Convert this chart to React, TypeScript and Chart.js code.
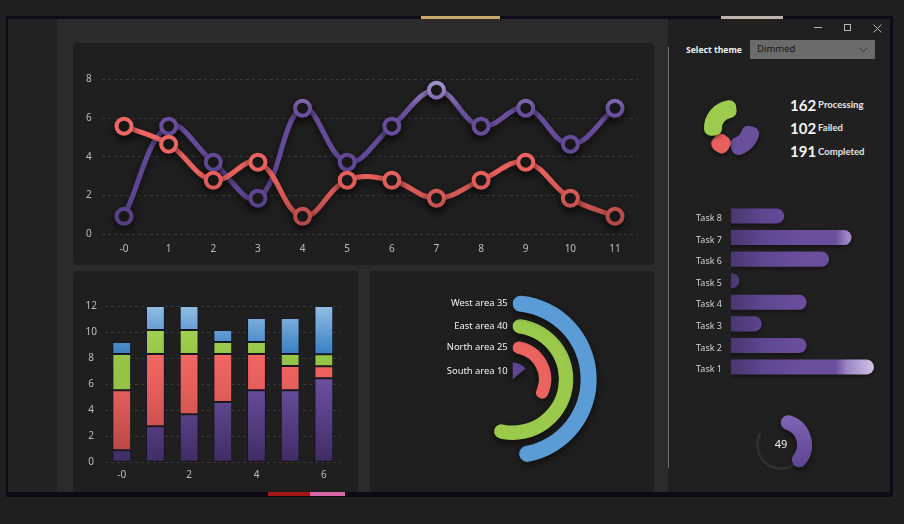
import React, { useEffect, useRef } from 'react';
import { Chart, registerables } from 'chart.js';

Chart.register(...registerables);
Chart.defaults.font.family = '"Noto Sans", "Open Sans", sans-serif';

// ---------------- data ----------------
const lineLabels = ['-0', '1', '2', '3', '4', '5', '6', '7', '8', '9', '10', '11'];
const lineSeriesPurple = [0.93, 5.58, 3.72, 1.86, 6.51, 3.72, 5.58, 7.44, 5.58, 6.51, 4.65, 6.51];
const lineSeriesRed = [5.58, 4.65, 2.79, 3.72, 0.93, 2.79, 2.79, 1.86, 2.79, 3.72, 1.86, 0.93];
const lineYMax = 8;
const lineYStep = 2;

const barLabels = ['-0', '1', '2', '3', '4', '5', '6'];
const barPurple = [0.92, 2.77, 3.69, 4.62, 5.54, 5.54, 6.46];
const barRed = [4.62, 5.54, 4.62, 3.69, 2.77, 1.85, 0.92];
const barGreen = [2.77, 1.85, 1.85, 0.92, 0.92, 0.92, 0.92];
const barBlue = [0.92, 1.84, 1.84, 0.92, 1.85, 2.77, 3.7];
const barYMax = 12;
const barYStep = 2;

const areaLabels = ['West area', 'East area', 'North area', 'South area'];
const areaValues = [35, 40, 25, 10];
const areaMax = 72;

const statusCounts = [162, 102, 191];
const statusNames = ['Processing', 'Failed', 'Completed'];
// icon arcs in degrees: purple, gap, red, gap, green, gap
const statusArcDegrees = [56, 47, 12, 47, 84, 114];

const taskLabels = ['Task 1', 'Task 2', 'Task 3', 'Task 4', 'Task 5', 'Task 6', 'Task 7', 'Task 8'];
const taskValues = [7, 4, 2, 4, 1, 5, 6, 3];
const taskAxisMin = 0.63;
const taskAxisMax = 7.27;

const gaugeValue = 49;
const gaugeMax = 100;

// ---------------- helpers ----------------
const TICK = '#bdbdbd';
type Stop = [number, string];

function gradY(chart: any, stops: Stop[], fallback: string) {
  const { chartArea, scales } = chart;
  if (!chartArea || !scales || !scales.y) return fallback;
  const s = scales.y;
  const p0 = s.getPixelForValue(s.min);
  const p1 = s.getPixelForValue(s.max);
  const g = chart.ctx.createLinearGradient(0, p0, 0, p1);
  for (const [v, c] of stops) {
    g.addColorStop(Math.min(1, Math.max(0, (v - s.min) / (s.max - s.min))), c);
  }
  return g;
}

function gradX(chart: any, stops: Stop[], fallback: string) {
  const { chartArea, scales } = chart;
  if (!chartArea || !scales || !scales.x) return fallback;
  const s = scales.x;
  const p0 = s.getPixelForValue(s.min);
  const p1 = s.getPixelForValue(s.max);
  const g = chart.ctx.createLinearGradient(p0, 0, p1, 0);
  for (const [v, c] of stops) {
    g.addColorStop(Math.min(1, Math.max(0, (v - s.min) / (s.max - s.min))), c);
  }
  return g;
}

const shadow = (color: string, blur: number, offY: number) => ({
  id: 'dropShadow',
  beforeDatasetDraw(chart: any) {
    const c = chart.ctx;
    c.save();
    c.shadowColor = color;
    c.shadowBlur = blur;
    c.shadowOffsetY = offY;
  },
  afterDatasetDraw(chart: any) {
    chart.ctx.restore();
  },
});

const baseOpts = {
  responsive: false,
  animation: false,
  events: [],
  plugins: { legend: { display: false }, tooltip: { enabled: false } },
};

// ---------------- chart configs ----------------
const purpleStops: Stop[] = [[0, '#523e82'], [2, '#5c4490'], [6.5, '#6a509f'], [7.5, '#9a85c4'], [8, '#a794cf']];
const redStops: Stop[] = [[0, '#a94444'], [1, '#bb4d4b'], [2, '#d45856'], [3.2, '#e9605d'], [5.6, '#f06764'], [8, '#f26a66']];

const lineConfig = () => ({
  type: 'line',
  data: {
    labels: lineLabels,
    datasets: [
      {
        data: lineSeriesRed,
        borderColor: (c: any) => gradY(c.chart, redStops, '#e8605d'),
        pointBorderColor: (c: any) => gradY(c.chart, redStops, '#e8605d'),
        pointBackgroundColor: '#1f1f1f',
        borderWidth: 5,
        pointRadius: 7.5,
        pointBorderWidth: 4,
        tension: 0.4,
        clip: false,
      },
      {
        data: lineSeriesPurple,
        borderColor: (c: any) => gradY(c.chart, purpleStops, '#6a4f9c'),
        pointBorderColor: (c: any) => gradY(c.chart, purpleStops, '#6a4f9c'),
        pointBackgroundColor: '#1f1f1f',
        borderWidth: 5,
        pointRadius: 7.5,
        pointBorderWidth: 4,
        tension: 0.4,
        clip: false,
      },
    ],
  },
  options: {
    ...baseOpts,
    layout: { autoPadding: false, padding: { top: 36.3, right: 16.7, bottom: 0, left: 0 } },
    scales: {
      x: {
        offset: true,
        grid: { display: false, drawTicks: false },
        border: { display: false },
        ticks: { color: TICK, font: { size: 10 }, padding: 8.7, maxRotation: 0, autoSkip: false },
        afterFit: (s: any) => { s.height = 30.7; },
      },
      y: {
        min: 0,
        max: lineYMax,
        ticks: { stepSize: lineYStep, color: TICK, font: { size: 10 }, padding: 10, crossAlign: 'center' },
        grid: { color: '#393939', drawTicks: false, lineWidth: 1 },
        border: { display: false, dash: [3, 3] },
        afterFit: (s: any) => { s.width = 28.7; },
      },
    },
  },
  plugins: [shadow('rgba(0,0,0,0.6)', 8, 4)],
});

const barConfig = () => {
  const mk = (data: number[], stops: Stop[], fb: string) => ({
    data,
    backgroundColor: (c: any) => gradY(c.chart, stops, fb),
    borderColor: '#1b1a2a',
    borderWidth: 1,
    borderSkipped: false,
    barPercentage: 0.56,
    categoryPercentage: 1,
  });
  return {
    type: 'bar',
    data: {
      labels: barLabels,
      datasets: [
        mk(barPurple, [[0, '#3f2d64'], [6.5, '#6c50a1'], [12, '#7a5fb0']], '#5a4288'),
        mk(barRed, [[0, '#b04444'], [1, '#bb4947'], [5.5, '#e45e5b'], [8.4, '#f26663'], [12, '#f26663']], '#e85f5c'),
        mk(barGreen, [[0, '#8fbf42'], [8, '#95c447'], [10.2, '#a3d052'], [12, '#a3d052']], '#9bc94b'),
        mk(barBlue, [[0, '#3a80c3'], [8.4, '#3a80c3'], [12, '#93bee4']], '#4a8fcf'),
      ],
    },
    options: {
      ...baseOpts,
      layout: { autoPadding: false, padding: { top: 35, right: 16.3, bottom: 0, left: 0 } },
      scales: {
        x: {
          stacked: true,
          grid: { display: false, drawTicks: false },
          border: { display: false },
          ticks: {
            color: TICK,
            font: { size: 10 },
            padding: 6.7,
            maxRotation: 0,
            autoSkip: false,
            callback: function (this: any, v: any, i: number) {
              return i % 2 === 0 ? barLabels[i] : '';
            },
          },
          afterFit: (s: any) => { s.height = 28.7; },
        },
        y: {
          stacked: true,
          min: 0,
          max: barYMax,
          ticks: { stepSize: barYStep, color: TICK, font: { size: 10 }, padding: 8, crossAlign: 'center' },
          grid: { color: '#393939', drawTicks: false },
          border: { display: false, dash: [3, 3] },
          afterFit: (s: any) => { s.width = 31.9; },
        },
      },
    },
    plugins: [shadow('rgba(0,0,0,0.35)', 4, 2)],
  };
};

const ringColors = ['#5b9bd6', '#9bc94c', '#ec6461', '#5f4892'];
const ringWeights = [16, 14.3, 12.3, 16.7];
const gapWeights = [7.3, 7.7, 9.3];

const radialConfig = () => {
  const datasets: any[] = [];
  areaValues.forEach((v, i) => {
    datasets.push({
      data: [v, areaMax - v],
      backgroundColor: [ringColors[i], 'rgba(0,0,0,0)'],
      borderWidth: 0,
      borderRadius: i < 3 ? 20 : 0,
      weight: ringWeights[i],
    });
    if (i < 3) {
      datasets.push({ data: [1], backgroundColor: ['rgba(0,0,0,0)'], borderWidth: 0, weight: gapWeights[i] });
    }
  });
  const labelPlugin = {
    id: 'ringLabels',
    afterDatasetsDraw(chart: any) {
      const ctx = chart.ctx;
      ctx.save();
      ctx.font = '9.4px "Noto Sans", sans-serif';
      ctx.fillStyle = '#f2f2f2';
      ctx.textAlign = 'right';
      ctx.textBaseline = 'middle';
      areaLabels.forEach((name, i) => {
        const arc = chart.getDatasetMeta(i * 2).data[0];
        const p = arc.getProps(['x', 'y', 'innerRadius', 'outerRadius'], true);
        ctx.fillText(`${name} ${areaValues[i]}`, p.x - 5, p.y - (p.innerRadius + p.outerRadius) / 2);
      });
      ctx.restore();
    },
  };
  return {
    type: 'doughnut',
    data: { datasets },
    options: {
      ...baseOpts,
      cutout: 0,
      layout: { padding: { top: 24.3, bottom: 27.7, left: 1.4, right: 0 } },
    },
    plugins: [shadow('rgba(0,0,0,0.6)', 8, 3), labelPlugin],
  };
};

const iconColors = ['#6a4f9c', 'rgba(0,0,0,0)', '#e8605e', 'rgba(0,0,0,0)', '#9dcb4d', 'rgba(0,0,0,0)'];

const iconConfig = () => ({
  type: 'doughnut',
  data: {
    datasets: [
      {
        data: statusArcDegrees,
        backgroundColor: iconColors,
        borderColor: iconColors,
        borderWidth: 14,
        hoverBorderWidth: 14,
        borderJoinStyle: 'round',
        borderAlign: 'center',
      },
    ],
  },
  options: {
    ...baseOpts,
    rotation: 106,
    cutout: '81%',
    layout: { padding: 7 },
  },
  plugins: [shadow('rgba(0,0,0,0.5)', 5, 2)],
});

const taskConfig = () => ({
  type: 'bar',
  data: {
    labels: taskLabels,
    datasets: [
      {
        data: taskValues,
        backgroundColor: (c: any) =>
          gradX(
            c.chart,
            [[taskAxisMin, '#4a376f'], [2, '#5e4690'], [3.5, '#6a4e9c'], [5.3, '#6b4f9c'], [5.8, '#9a86c4'], [7, '#d0c4e6'], [taskAxisMax, '#ded6ef']],
            '#6a4f9c'
          ),
        borderRadius: 8,
        borderSkipped: 'start',
        barPercentage: 0.7,
        categoryPercentage: 1,
      },
    ],
  },
  options: {
    ...baseOpts,
    indexAxis: 'y',
    layout: { autoPadding: false, padding: { top: 15.2, right: 10, left: 0, bottom: 15.2 } },
    scales: {
      x: { display: false, min: taskAxisMin, max: taskAxisMax },
      y: {
        reverse: true,
        grid: { display: false, drawTicks: false },
        border: { display: false },
        ticks: { color: '#d2d2d2', font: { size: 9 }, padding: 9, labelOffset: 2.5 },
        afterFit: (s: any) => { s.width = 51; },
      },
    },
  },
  plugins: [shadow('rgba(0,0,0,0.45)', 5, 2)],
});

const gaugeConfig = () => {
  const track = {
    id: 'gaugeTrack',
    beforeDatasetsDraw(chart: any) {
      const arc = chart.getDatasetMeta(0).data[0];
      const p = arc.getProps(['x', 'y', 'innerRadius', 'outerRadius'], true);
      const ctx = chart.ctx;
      ctx.save();
      ctx.beginPath();
      ctx.arc(p.x, p.y, (p.innerRadius + p.outerRadius) / 2, -Math.PI / 2, -Math.PI / 2 + (300 * Math.PI) / 180);
      ctx.lineWidth = 2.5;
      ctx.strokeStyle = '#313131';
      ctx.stroke();
      ctx.restore();
    },
    afterDatasetsDraw(chart: any) {
      const arc = chart.getDatasetMeta(0).data[0];
      const p = arc.getProps(['x', 'y'], true);
      const ctx = chart.ctx;
      ctx.save();
      ctx.font = '11px "Noto Sans", sans-serif';
      ctx.fillStyle = '#f0f0f0';
      ctx.textAlign = 'center';
      ctx.textBaseline = 'middle';
      ctx.fillText(String(gaugeValue), p.x, p.y);
      ctx.restore();
    },
  };
  return {
    type: 'doughnut',
    data: {
      datasets: [
        {
          data: [gaugeValue, gaugeMax - gaugeValue],
          backgroundColor: (c: any) => {
            if (c.dataIndex !== 0) return 'rgba(0,0,0,0)';
            const { chartArea } = c.chart;
            if (!chartArea) return '#6b509f';
            const g = c.chart.ctx.createLinearGradient(0, chartArea.top, 0, chartArea.bottom);
            g.addColorStop(0, '#8267b6');
            g.addColorStop(0.5, '#6c51a0');
            g.addColorStop(1, '#5a4290');
            return g;
          },
          borderWidth: 0,
          borderRadius: 20,
        },
      ],
    },
    options: {
      ...baseOpts,
      rotation: 0,
      circumference: 300,
      cutout: '52%',
      layout: { padding: 9 },
    },
    plugins: [track, shadow('rgba(0,0,0,0.5)', 6, 3)],
  };
};

// ---------------- components ----------------
function ChartCanvas({ x, y, w, h, config }: { x: number; y: number; w: number; h: number; config: () => any }) {
  const ref = useRef<HTMLCanvasElement>(null);
  useEffect(() => {
    const chart = new Chart(ref.current as HTMLCanvasElement, config());
    return () => chart.destroy();
  }, []);
  return (
    <canvas
      ref={ref}
      width={w}
      height={h}
      style={{ position: 'absolute', left: x, top: y, width: w, height: h, display: 'block' }}
    />
  );
}

const abs = (left: number, top: number, width: number, height: number, extra: any = {}) => ({
  position: 'absolute' as const,
  left,
  top,
  width,
  height,
  ...extra,
});

export default function App() {
  const statTops = [97.7, 121, 144.4];
  return (
    <div
      style={{
        position: 'fixed',
        left: 0,
        top: 0,
        width: 904,
        height: 524,
        background: '#1f1f1f',
        overflow: 'hidden',
        fontFamily: '"Noto Sans", sans-serif',
      }}
    >
      {/* window frame */}
      <div style={abs(6, 16, 887, 481, { background: '#0c0b16' })} />
      <div style={abs(421, 16, 79, 3, { background: '#c9a86a' })} />
      <div style={abs(721, 16, 62, 3, { background: '#bdb3a8' })} />
      <div style={abs(268, 492, 42, 4, { background: '#a3161a' })} />
      <div style={abs(310, 492, 35, 4, { background: '#d466a8' })} />
      <div style={abs(8, 19, 49, 472.5, { background: '#232323' })} />
      <div style={abs(57, 19, 611, 472.5, { background: '#2b2b2b' })} />
      <div style={abs(668, 19, 222, 472.5, { background: '#202020' })} />
      <div style={abs(668, 47, 1.3, 421, { background: '#707070' })} />

      {/* cards */}
      <div style={abs(73, 43, 581, 222, { background: '#1f1f1f', borderRadius: 4 })} />
      <div style={abs(73, 271, 284.5, 220.5, { background: '#1f1f1f', borderRadius: '4px 4px 0 0' })} />
      <div style={abs(370, 271, 284, 220.5, { background: '#1f1f1f', borderRadius: '4px 4px 0 0' })} />

      <ChartCanvas x={73} y={43} w={581} h={222} config={lineConfig} />
      <ChartCanvas x={73} y={271} w={284} h={220} config={barConfig} />
      <ChartCanvas x={370} y={271} w={284} h={220} config={radialConfig} />

      {/* window controls */}
      <div style={abs(814, 27, 8, 1, { background: '#b5b5b5' })} />
      <div style={abs(844, 24, 7, 7, { border: '1px solid #b5b5b5', boxSizing: 'border-box' })} />
      <svg style={abs(873, 24, 9, 9)} width={9} height={9}>
        <line x1={0.5} y1={0.5} x2={8.5} y2={8.5} stroke="#b5b5b5" strokeWidth={1} />
        <line x1={8.5} y1={0.5} x2={0.5} y2={8.5} stroke="#b5b5b5" strokeWidth={1} />
      </svg>

      {/* theme selector */}
      <div
        style={abs(686, 43, 70, 14, {
          fontSize: 8.6,
          fontWeight: 700,
          color: '#f2f2f2',
          lineHeight: '14px',
          whiteSpace: 'nowrap',
        })}
      >
        Select theme
      </div>
      <div style={abs(750, 40, 125, 19, { background: '#6b6b6b' })}>
        <div style={{ position: 'absolute', left: 7, top: 0, lineHeight: '18px', fontSize: 9.5, color: '#161616' }}>Dimmed</div>
        <svg style={{ position: 'absolute', left: 109, top: 7 }} width={9} height={6}>
          <polyline points="0.5,0.5 4.5,4.5 8.5,0.5" fill="none" stroke="#3a3a3a" strokeWidth={1} />
        </svg>
      </div>

      {/* status icon + counts */}
      <ChartCanvas x={697} y={93} w={70} h={70} config={iconConfig} />
      {statusCounts.map((n, i) => (
        <div
          key={i}
          style={{
            position: 'absolute',
            left: 790,
            top: statTops[i],
            display: 'flex',
            alignItems: 'baseline',
            whiteSpace: 'nowrap',
            fontFamily: 'Lato, "Noto Sans", sans-serif',
            fontWeight: 700,
            color: '#f4f4f4',
          }}
        >
          <span style={{ fontSize: 15, lineHeight: '15px' }}>{n}</span>
          <span style={{ fontSize: 9.5, lineHeight: '9.5px', marginLeft: 2, position: 'relative', top: -2.7, color: '#e6e6e6' }}>
            {statusNames[i]}
          </span>
        </div>
      ))}

      {/* task bars */}
      <ChartCanvas x={680} y={190} w={210} h={203} config={taskConfig} />

      {/* gauge */}
      <ChartCanvas x={741} y={405} w={80} h={80} config={gaugeConfig} />
    </div>
  );
}
